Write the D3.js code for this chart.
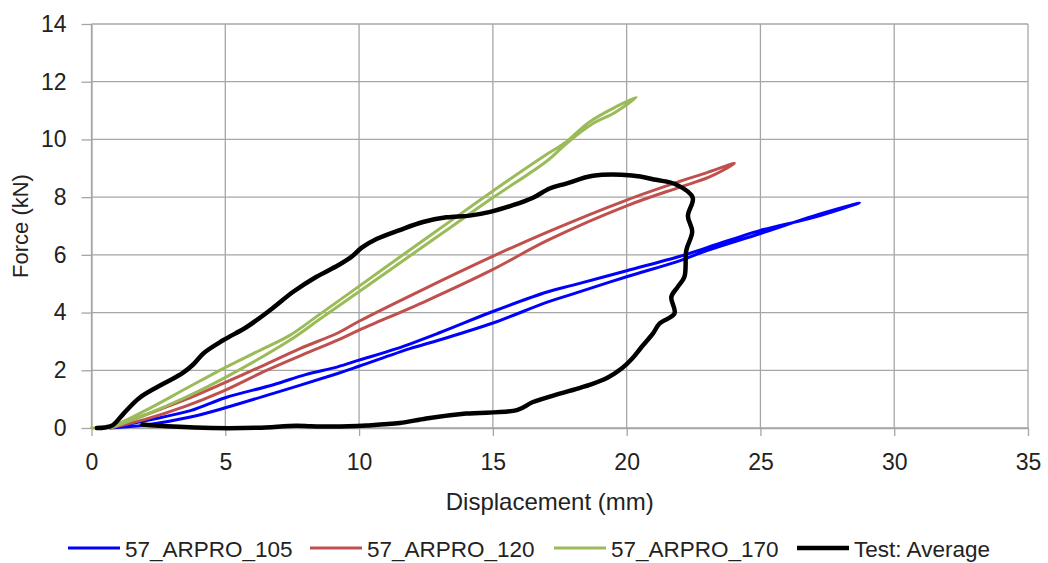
<!DOCTYPE html>
<html>
<head>
<meta charset="utf-8">
<script src="https://cdn.jsdelivr.net/npm/d3@7"></script>
<style>
  body { margin: 0; background: #fff; }
  text { font-family: "Liberation Sans", Arial, sans-serif; fill: #222; }
</style>
</head>
<body>
<div id="chart"></div>
<script>
// series: [displacement (mm), force (kN)]
var arpro105 = [
  [0.7,0],[2,0.25],[3.7,0.6],[5,1.05],[6.8,1.5],[8,1.85],[9.2,2.12],[10,2.35],[11.4,2.75],
  [13,3.3],[14.95,4.02],[17.06,4.72],[18,4.95],[20,5.45],[22,5.95],[23,6.25],[25,6.85],[27,7.3],[28.7,7.8],
  [27,7.35],[25,6.74],[23,6.15],[22,5.8],[20,5.24],[18,4.65],[17.06,4.37],[14.95,3.62],[13,3.05],
  [11.9,2.75],[10,2.14],[9.2,1.89],[6.8,1.2],[5,0.7],[3.7,0.38],[2,0.1],[0.7,0]
];
var arpro120 = [
  [0.7,0],[2,0.45],[3.5,0.98],[4.92,1.55],[6.5,2.2],[7.79,2.75],[9.22,3.3],[10,3.7],[12.5,4.85],
  [14.95,5.93],[17.06,6.8],[20,7.9],[22,8.55],[23,8.85],[24.03,9.17],
  [23.1,8.7],[22,8.35],[20,7.7],[17.06,6.51],[14.95,5.47],[12.5,4.4],[10,3.39],[9.22,3.05],
  [8.05,2.6],[6.5,1.98],[4.92,1.28],[3.5,0.75],[2,0.3],[0.7,0]
];
var arpro170 = [
  [0,0],[0.7,0.05],[2,0.6],[3.5,1.35],[4.92,2.06],[6.2,2.65],[7.41,3.21],[8.5,3.92],[9.98,4.9],
  [12,6.24],[13.4,7.16],[14.95,8.18],[17.06,9.51],[17.74,9.91],[18.6,10.6],[20.36,11.46],
  [19.5,10.9],[18.74,10.55],[17.74,9.85],[17.06,9.28],[14.95,7.95],[13.4,6.94],[12,6.03],[9.98,4.71],
  [8.5,3.75],[7.41,3.04],[4.92,1.71],[3.5,1.05],[2,0.45],[0.7,0]
];
var testAverage = [
  [0.2,0],[0.5,0.02],[0.8,0.1],[1.2,0.5],[1.8,1.05],[2.7,1.54],[3.4,1.9],[3.8,2.2],[4.2,2.6],[4.92,3.04],
  [5.8,3.5],[6.67,4.08],[7.54,4.72],[8.41,5.24],[9.22,5.64],[9.7,5.92],[10.1,6.25],[10.65,6.55],
  [11.52,6.86],[12.39,7.14],[13.26,7.3],[14.13,7.36],[14.9,7.49],[15.75,7.72],[16.5,7.98],[17.12,8.3],
  [17.74,8.47],[18.74,8.74],[20.2,8.75],[21.1,8.6],[21.85,8.44],[22.47,7.98],[22.29,7.35],[22.45,6.8],
  [22.23,6.16],[22.16,5.24],[21.91,4.89],[21.67,4.54],[21.79,3.97],[21.23,3.62],[20.98,3.27],[20.55,2.8],
  [20.2,2.4],[19.8,2.05],[19.3,1.75],[18.7,1.52],[18.1,1.35],[17.5,1.19],[16.5,0.9],[15.9,0.62],[14.0,0.5],
  [12.51,0.33],[11.52,0.17],[10.28,0.09],[9.03,0.05],[8.2,0.06],[7.66,0.08],[6.2,0.01],[4.5,0.0],
  [3.05,0.05],[1.9,0.12]
];

var seriesNames = ["57_ARPRO_105", "57_ARPRO_120", "57_ARPRO_170", "Test: Average"];
var seriesData = [arpro105, arpro120, arpro170, testAverage];
var seriesColors = ["#0000ff", "#c0504d", "#9bbb59", "#000000"];
var seriesWidths = [3, 3, 3, 4.5];
var legendX = [68, 310, 554, 797];

var xTicks = [0, 5, 10, 15, 20, 25, 30, 35];
var yTicks = [0, 2, 4, 6, 8, 10, 12, 14];

var W = 1048, H = 563;
var margin = { top: 24, right: 20, bottom: 135, left: 91.5 };
var width = W - margin.left - margin.right;
var height = H - margin.top - margin.bottom;

var svg = d3.select("#chart").append("svg")
    .attr("width", W)
    .attr("height", H);

var chart = svg.append("g")
    .attr("transform", "translate(" + margin.left + "," + margin.top + ")");

var xa = d3.scaleLinear().domain([0, 35]).range([0, width]);
var ya = d3.scaleLinear().domain([0, 14]).range([height, 0]);

// grid
chart.append("g").selectAll("line")
    .data(xTicks).enter().append("line")
    .attr("x1", function(d) { return xa(d); })
    .attr("x2", function(d) { return xa(d); })
    .attr("y1", 0).attr("y2", height)
    .attr("stroke", "#a6a6a6").attr("stroke-width", 1.3);
chart.append("g").selectAll("line")
    .data(yTicks).enter().append("line")
    .attr("x1", 0).attr("x2", width)
    .attr("y1", function(d) { return ya(d); })
    .attr("y2", function(d) { return ya(d); })
    .attr("stroke", "#a6a6a6").attr("stroke-width", 1.3);

// axes
var xAxis = d3.axisBottom(xa).tickValues(xTicks).tickSize(8).tickSizeOuter(0).tickPadding(18);
var yAxis = d3.axisLeft(ya).tickValues(yTicks).tickSize(10).tickSizeOuter(0).tickPadding(15);

var gx = chart.append("g")
    .attr("transform", "translate(0," + height + ")")
    .call(xAxis);
var gy = chart.append("g").call(yAxis);

[gx, gy].forEach(function(g) {
  g.selectAll("path, line").attr("stroke", "#a6a6a6").attr("stroke-width", 1.3);
  g.selectAll("text")
      .style("font-family", "'Liberation Sans', Arial, sans-serif")
      .style("font-size", "23px")
      .attr("fill", "#222");
});

// series
var line = d3.line()
    .x(function(d) { return xa(d[0]); })
    .y(function(d) { return ya(d[1]); })
    .curve(d3.curveCatmullRom.alpha(0.5));

seriesData.forEach(function(s, i) {
  chart.append("path")
      .datum(s)
      .attr("fill", "none")
      .attr("stroke", seriesColors[i])
      .attr("stroke-width", seriesWidths[i])
      .attr("stroke-linejoin", "round")
      .attr("stroke-linecap", "round")
      .attr("d", line);
});

// axis titles
svg.append("text")
    .attr("x", margin.left + width / 2 - 10)
    .attr("y", 510)
    .attr("text-anchor", "middle")
    .style("font-size", "24px")
    .text("Displacement (mm)");

svg.append("text")
    .attr("transform", "translate(28," + (margin.top + height / 2) + ") rotate(-90)")
    .attr("text-anchor", "middle")
    .style("font-size", "22px")
    .text("Force (kN)");

// legend
var legend = svg.append("g").attr("transform", "translate(0,548)");
seriesNames.forEach(function(name, i) {
  var g = legend.append("g").attr("transform", "translate(" + legendX[i] + ",0)");
  g.append("line")
      .attr("x1", 0).attr("x2", 52)
      .attr("y1", 0).attr("y2", 0)
      .attr("stroke", seriesColors[i])
      .attr("stroke-width", seriesWidths[i]);
  g.append("text")
      .attr("x", 57).attr("y", 8.5)
      .style("font-size", "22.5px")
      .text(name);
});
</script>
</body>
</html>
